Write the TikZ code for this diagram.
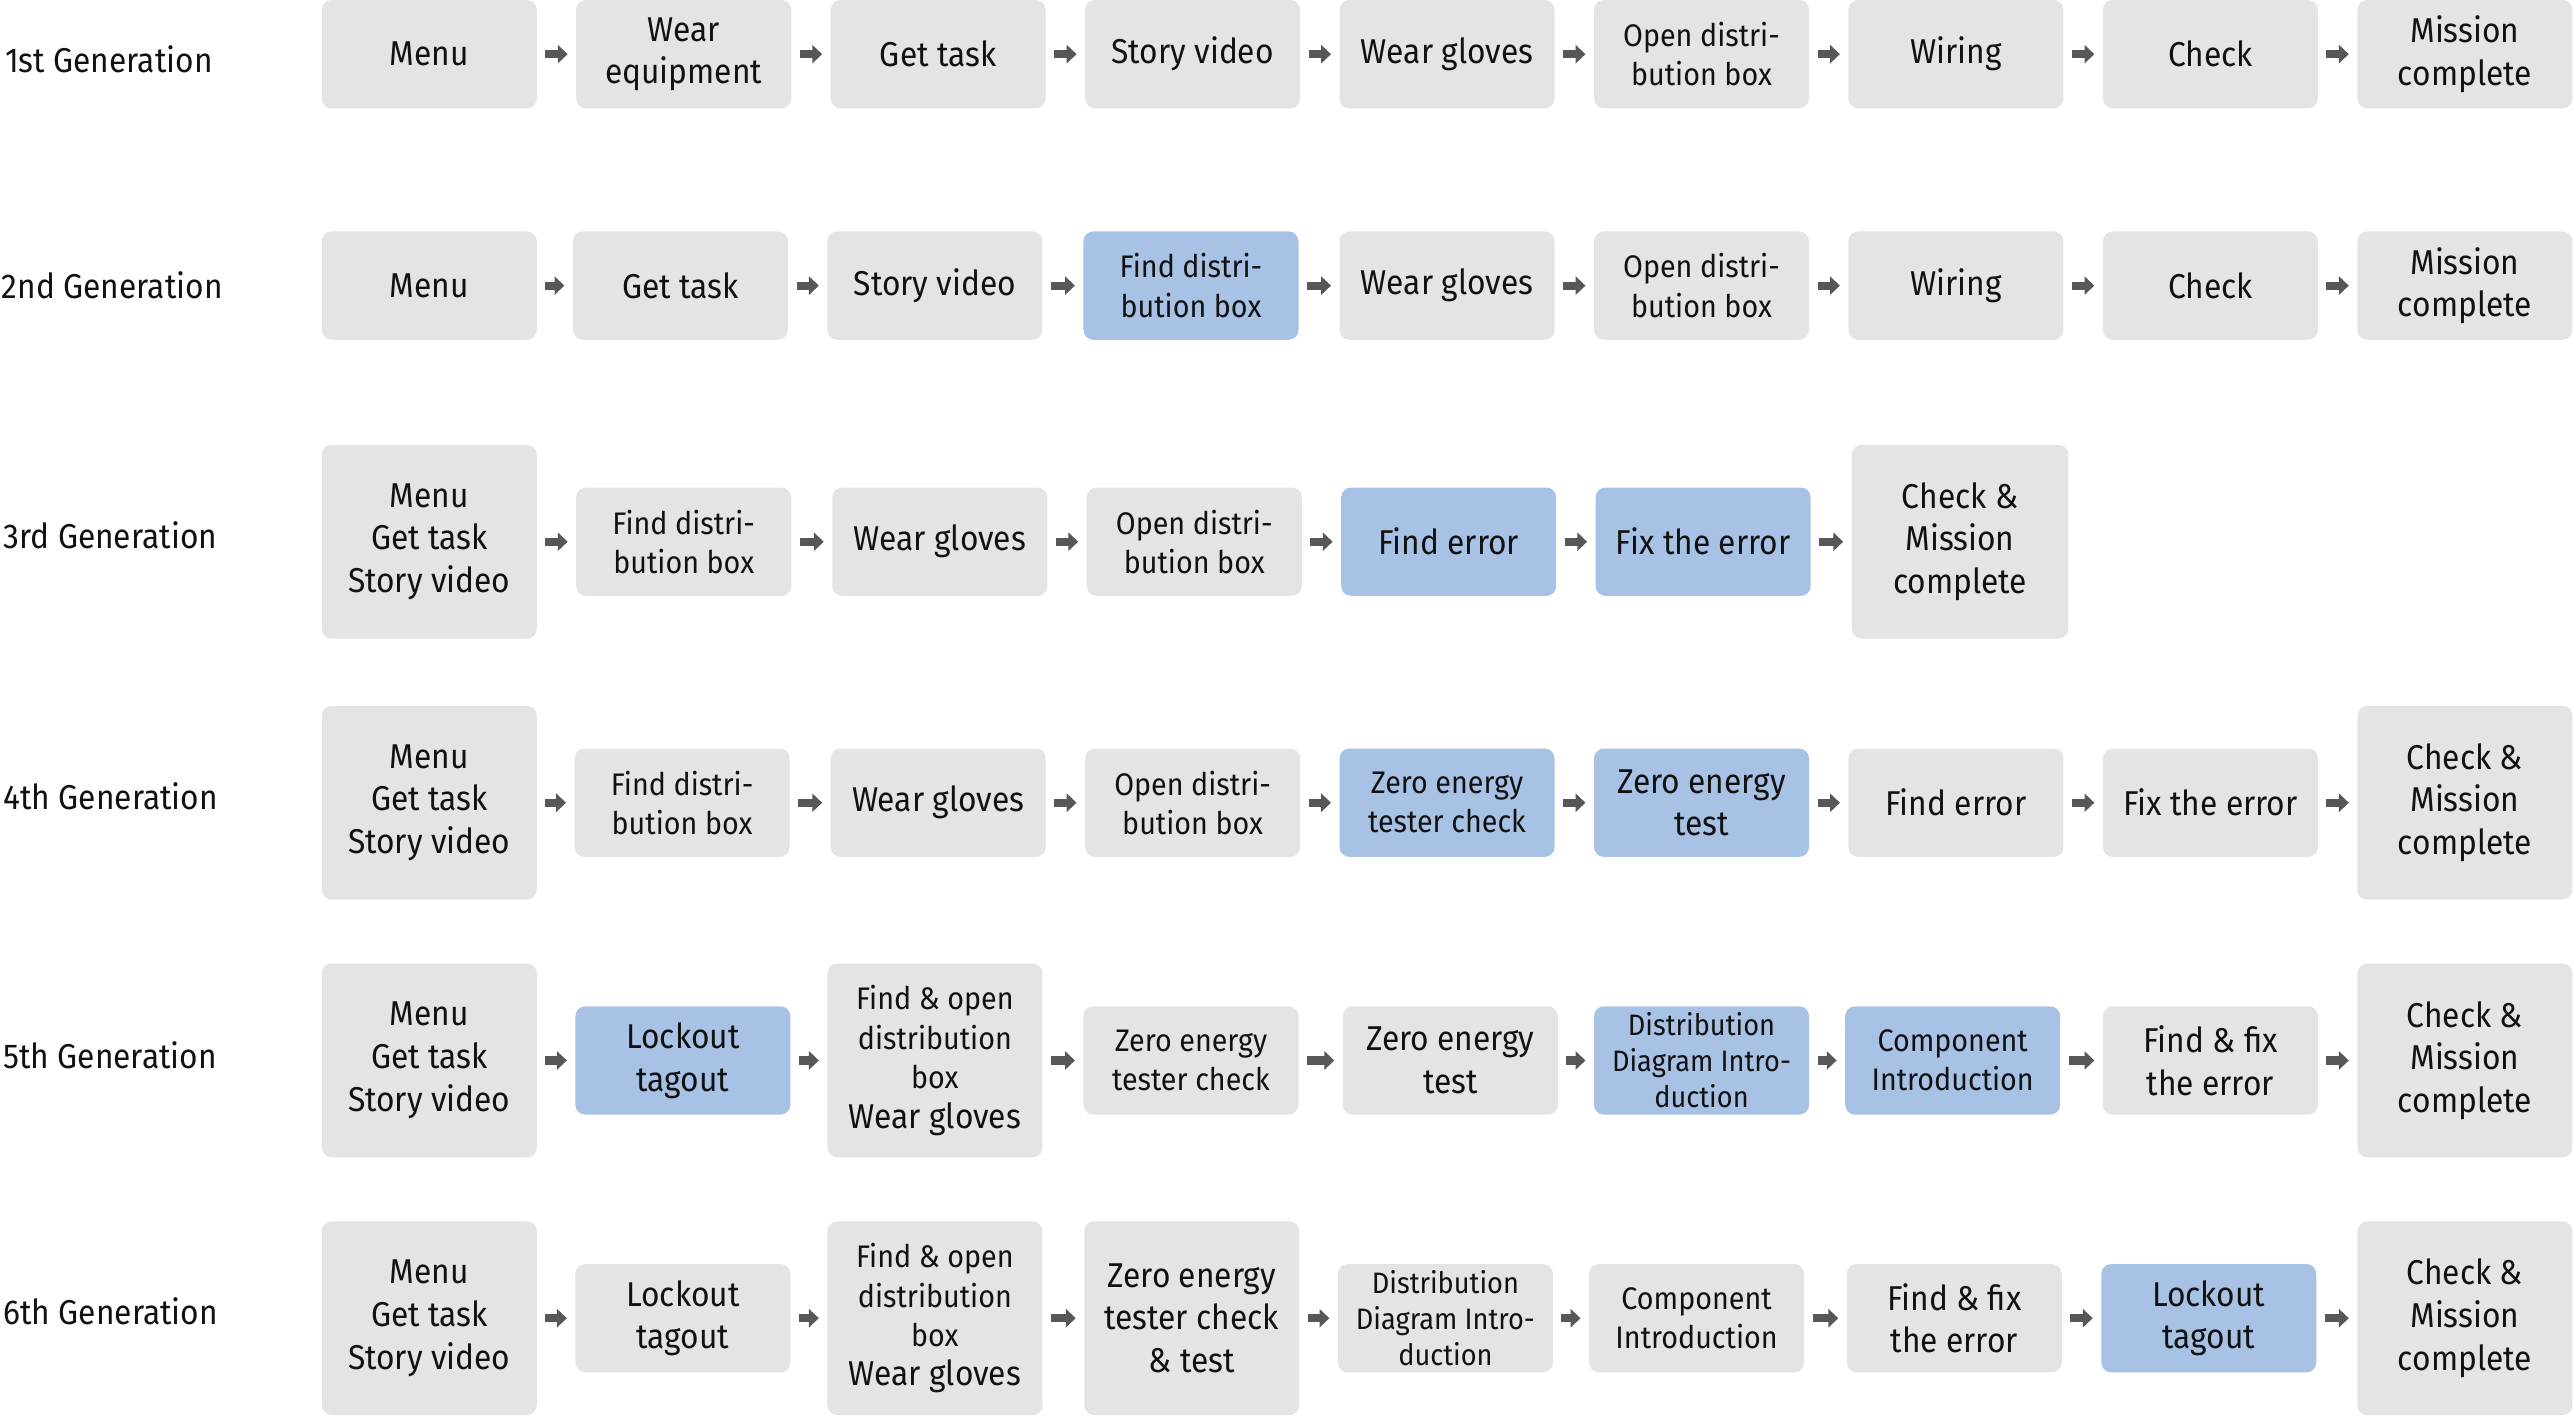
\documentclass[tikz,border=0pt]{standalone}
\usepackage{fontspec}
\setmainfont{Fira Sans}[FakeStretch=0.92]
\usetikzlibrary{arrows.meta}
\definecolor{boxgray}{HTML}{E4E4E4}
\definecolor{boxblue}{HTML}{A8C2E5}
\definecolor{arrgray}{HTML}{575757}
\definecolor{txtcol}{HTML}{111111}
\newcommand\szA{\fontsize{21}{26}\selectfont}
\newcommand\szB{\fontsize{19}{24}\selectfont}
\newcommand\szC{\fontsize{18}{22}\selectfont}
\tikzset{
  box/.style={fill=boxgray, rounded corners=6pt, minimum width=131pt, minimum height=66pt,
    inner sep=0pt, align=center, text=txtcol, font=\szA},
  tall/.style={box, minimum height=118pt},
  hl/.style={fill=boxblue},
  smallfont/.style={font=\szB},
  tinyfont/.style={font=\szC},
  gen/.style={anchor=west, font=\szA, text=txtcol, inner sep=0pt},
  arr/.style={draw=arrgray, line width=5pt, -{Triangle[length=6pt,width=11pt]},
    shorten <=5pt, shorten >=5pt}
}
\begin{document}
\begin{tikzpicture}[x=1pt,y=-1pt]
\useasboundingbox (0,0) rectangle (1568,864);

% Row 1
\node[gen] (g1) at (3,36) {1st Generation};
\node[box] (r1a) at (261.5,33) {Menu};
\node[box] (r1b) at (416.5,33) {Wear\\equipment};
\node[box] (r1c) at (571.5,33) {Get task};
\node[box] (r1d) at (726.5,33) {Story video};
\node[box] (r1e) at (881.5,33) {Wear gloves};
\node[box,smallfont] (r1f) at (1036.5,33) {Open distri-\\bution box};
\node[box] (r1g) at (1191.5,33) {Wiring};
\node[box] (r1h) at (1346.5,33) {Check};
\node[box] (r1i) at (1501.5,33) {Mission\\complete};
\foreach \a/\b in {r1a/r1b,r1b/r1c,r1c/r1d,r1d/r1e,r1e/r1f,r1f/r1g,r1g/r1h,r1h/r1i}
  \draw[arr] (\a) -- (\b);

% Row 2
\node[gen] (g2) at (1,174) {2nd Generation};
\node[box] (r2a) at (261.5,174) {Menu};
\node[box] (r2b) at (414.5,174) {Get task};
\node[box] (r2c) at (569.5,174) {Story video};
\node[box,hl,smallfont] (r2d) at (725.5,174) {Find distri-\\bution box};
\node[box] (r2e) at (881.5,174) {Wear gloves};
\node[box,smallfont] (r2f) at (1036.5,174) {Open distri-\\bution box};
\node[box] (r2g) at (1191.5,174) {Wiring};
\node[box] (r2h) at (1346.5,174) {Check};
\node[box] (r2i) at (1501.5,174) {Mission\\complete};
\foreach \a/\b in {r2a/r2b,r2b/r2c,r2c/r2d,r2d/r2e,r2e/r2f,r2f/r2g,r2g/r2h,r2h/r2i}
  \draw[arr] (\a) -- (\b);

% Row 3
\node[gen] (g3) at (2,326) {3rd Generation};
\node[tall] (r3a) at (261.5,330) {Menu\\Get task\\Story video};
\node[box,smallfont] (r3b) at (416.5,330) {Find distri-\\bution box};
\node[box] (r3c) at (572.5,330) {Wear gloves};
\node[box,smallfont] (r3d) at (727.5,330) {Open distri-\\bution box};
\node[box,hl] (r3e) at (882.5,330) {Find error};
\node[box,hl] (r3f) at (1037.5,330) {Fix the error};
\node[tall,minimum width=132pt] (r3g) at (1194,330) {Check \&\\Mission\\complete};
\foreach \a/\b in {r3a/r3b,r3b/r3c,r3c/r3d,r3d/r3e,r3e/r3f,r3f/r3g}
  \draw[arr] (\a) -- (\b);

% Row 4
\node[gen] (g4) at (2,485) {4th Generation};
\node[tall] (r4a) at (261.5,489) {Menu\\Get task\\Story video};
\node[box,smallfont] (r4b) at (415.5,489) {Find distri-\\bution box};
\node[box] (r4c) at (571.5,489) {Wear gloves};
\node[box,smallfont] (r4d) at (726.5,489) {Open distri-\\bution box};
\node[box,hl,smallfont] (r4e) at (881.5,489) {Zero energy\\tester check};
\node[box,hl] (r4f) at (1036.5,489) {Zero energy\\test};
\node[box] (r4g) at (1191.5,489) {Find error};
\node[box] (r4h) at (1346.5,489) {Fix the error};
\node[tall] (r4i) at (1501.5,489) {Check \&\\Mission\\complete};
\foreach \a/\b in {r4a/r4b,r4b/r4c,r4c/r4d,r4d/r4e,r4e/r4f,r4f/r4g,r4g/r4h,r4h/r4i}
  \draw[arr] (\a) -- (\b);

% Row 5
\node[gen] (g5) at (2,643) {5th Generation};
\node[tall] (r5a) at (261.5,646) {Menu\\Get task\\Story video};
\node[box,hl] (r5b) at (416,646) {Lockout\\tagout};
\node[tall,smallfont] (r5c) at (569.5,646) {Find \& open\\distribution\\box\\{\szA Wear gloves}};
\node[box,smallfont] (r5d) at (725.5,646) {Zero energy\\tester check};
\node[box] (r5e) at (883.5,646) {Zero energy\\test};
\node[box,hl,tinyfont] (r5f) at (1036.5,646) {Distribution\\Diagram Intro-\\duction};
\node[box,hl,smallfont] (r5g) at (1189.5,646) {Component\\Introduction};
\node[box] (r5h) at (1346.5,646) {Find \& fix\\the error};
\node[tall] (r5i) at (1501.5,646) {Check \&\\Mission\\complete};
\foreach \a/\b in {r5a/r5b,r5b/r5c,r5c/r5d,r5d/r5e,r5e/r5f,r5f/r5g,r5g/r5h,r5h/r5i}
  \draw[arr] (\a) -- (\b);

% Row 6
\node[gen] (g6) at (2,799) {6th Generation};
\node[tall] (r6a) at (261.5,803) {Menu\\Get task\\Story video};
\node[box] (r6b) at (416,803) {Lockout\\tagout};
\node[tall,smallfont] (r6c) at (569.5,803) {Find \& open\\distribution\\box\\{\szA Wear gloves}};
\node[tall] (r6d) at (726,803) {Zero energy\\tester check\\\& test};
\node[box,tinyfont] (r6e) at (880.5,803) {Distribution\\Diagram Intro-\\duction};
\node[box,smallfont] (r6f) at (1033.5,803) {Component\\Introduction};
\node[box] (r6g) at (1190.5,803) {Find \& fix\\the error};
\node[box,hl] (r6h) at (1345.5,803) {Lockout\\tagout};
\node[tall] (r6i) at (1501.5,803) {Check \&\\Mission\\complete};
\foreach \a/\b in {r6a/r6b,r6b/r6c,r6c/r6d,r6d/r6e,r6e/r6f,r6f/r6g,r6g/r6h,r6h/r6i}
  \draw[arr] (\a) -- (\b);
\end{tikzpicture}
\end{document}
